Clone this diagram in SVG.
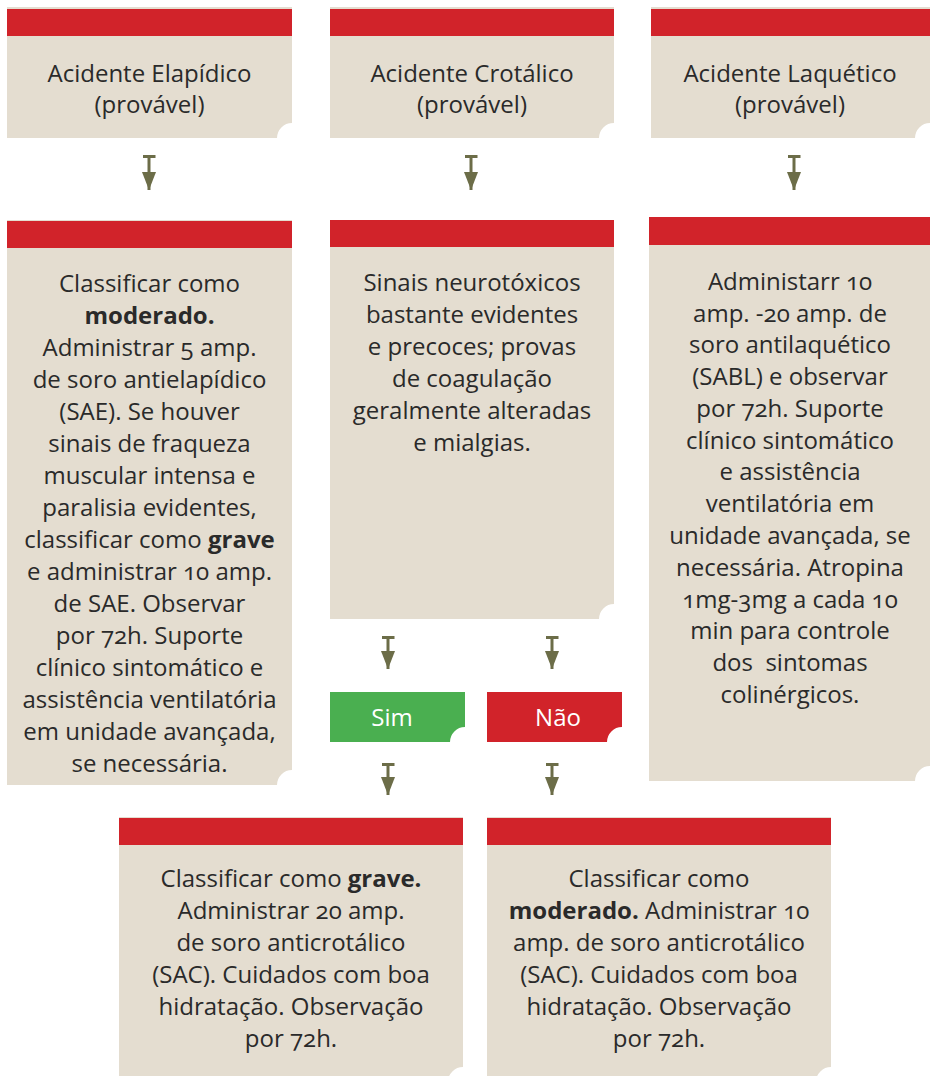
<svg xmlns="http://www.w3.org/2000/svg" width="930" height="1076" viewBox="0 0 930 1076">
<style>
.box{fill:#e4ddd0}
.bar{fill:#d1232a}
.t{font-family:"Open Sans","Noto Sans","DejaVu Sans",sans-serif;font-size:24px;fill:#2a2a2a;text-anchor:middle;font-variant-numeric:oldstyle-nums}
.b{font-weight:bold}
.w{font-family:"Open Sans","Noto Sans","DejaVu Sans",sans-serif;font-size:24px;fill:#ffffff;text-anchor:middle}
.c{stroke:#6c6d48;stroke-width:3;fill:none;marker-start:url(#tee);marker-end:url(#head)}
</style>
<defs>
<marker id="head" markerUnits="userSpaceOnUse" viewBox="0 0 14 18" markerWidth="14" markerHeight="18" refX="7" refY="18" orient="0">
<path d="M0,0 L14,0 L7,18 Z" fill="#6c6d48"/>
</marker>
<marker id="tee" markerUnits="userSpaceOnUse" viewBox="0 0 13 3" markerWidth="13" markerHeight="3" refX="6.5" refY="0" orient="0">
<rect x="0" y="0" width="13" height="3" fill="#6c6d48"/>
</marker>
</defs>

<g id="connectors">
<path class="c" d="M149,155 V190"/>
<path class="c" d="M471,155 V190"/>
<path class="c" d="M794,155 V190"/>
<path class="c" d="M388,636 V669"/>
<path class="c" d="M552,636 V669"/>
<path class="c" d="M388,763 V795"/>
<path class="c" d="M552,763 V795"/>
</g>

<g id="n-elapidico">
<path class="box" d="M7,7 H292 V123 A15,15 0 0 0 277,138 H7 Z"/>
<rect class="bar" x="7" y="9" width="285" height="27"/>
<text class="t" x="149.5" y="82">Acidente Elapídico</text>
<text class="t" x="149.5" y="113">(provável)</text>
</g>

<g id="n-crotalico">
<path class="box" d="M330,7 H614 V123 A15,15 0 0 0 599,138 H330 Z"/>
<rect class="bar" x="330" y="9" width="284" height="27"/>
<text class="t" x="472" y="82">Acidente Crotálico</text>
<text class="t" x="472" y="113">(provável)</text>
</g>

<g id="n-laquetico">
<path class="box" d="M651,7 H930 V123 A15,15 0 0 0 915,138 H651 Z"/>
<rect class="bar" x="651" y="9" width="279" height="27"/>
<text class="t" x="790" y="82">Acidente Laquético</text>
<text class="t" x="790" y="113">(provável)</text>
</g>

<g id="n-elapidico-conduta">
<path class="box" d="M7,220 H292 V770 A15,15 0 0 0 277,785 H7 Z"/>
<rect class="bar" x="7" y="221" width="285" height="27"/>
<text class="t" x="149.5" y="292">Classificar como</text>
<text class="t b" x="149.5" y="324">moderado.</text>
<text class="t" x="149.5" y="356">Administrar 5 amp.</text>
<text class="t" x="149.5" y="388">de soro antielapídico</text>
<text class="t" x="149.5" y="420">(SAE). Se houver</text>
<text class="t" x="149.5" y="452">sinais de fraqueza</text>
<text class="t" x="149.5" y="484">muscular intensa e</text>
<text class="t" x="149.5" y="516">paralisia evidentes,</text>
<text class="t" x="149.5" y="548">classificar como <tspan class="b">grave</tspan></text>
<text class="t" x="149.5" y="580">e administrar 10 amp.</text>
<text class="t" x="149.5" y="612">de SAE. Observar</text>
<text class="t" x="149.5" y="644">por 72h. Suporte</text>
<text class="t" x="149.5" y="676">clínico sintomático e</text>
<text class="t" x="149.5" y="708">assistência ventilatória</text>
<text class="t" x="149.5" y="740">em unidade avançada,</text>
<text class="t" x="149.5" y="772">se necessária.</text>
</g>

<g id="n-crotalico-sinais">
<path class="box" d="M330,220 H614 V604 A15,15 0 0 0 599,619 H330 Z"/>
<rect class="bar" x="330" y="220" width="284" height="27"/>
<text class="t" x="472" y="291">Sinais neurotóxicos</text>
<text class="t" x="472" y="323">bastante evidentes</text>
<text class="t" x="472" y="355">e precoces; provas</text>
<text class="t" x="472" y="387">de coagulação</text>
<text class="t" x="472" y="419">geralmente alteradas</text>
<text class="t" x="472" y="451">e mialgias.</text>
</g>

<g id="n-laquetico-conduta">
<path class="box" d="M649,217 H930 V766 A15,15 0 0 0 915,781 H649 Z"/>
<rect class="bar" x="649" y="217" width="281" height="28"/>
<text class="t" x="790" y="290">Administarr 10</text>
<text class="t" x="790" y="322">amp. -20 amp. de</text>
<text class="t" x="790" y="353">soro antilaquético</text>
<text class="t" x="790" y="385">(SABL) e observar</text>
<text class="t" x="790" y="417">por 72h. Suporte</text>
<text class="t" x="790" y="449">clínico sintomático</text>
<text class="t" x="790" y="480">e assistência</text>
<text class="t" x="790" y="512">ventilatória em</text>
<text class="t" x="790" y="544">unidade avançada, se</text>
<text class="t" x="790" y="576">necessária. Atropina</text>
<text class="t" x="790" y="608">1mg-3mg a cada 10</text>
<text class="t" x="790" y="639">min para controle</text>
<text class="t" x="790" y="671">dos&#160; sintomas</text>
<text class="t" x="790" y="703">colinérgicos.</text>
</g>

<g id="n-sim">
<path d="M330,692 H465 V727 A15,15 0 0 0 450,742 H330 Z" fill="#4aaf50"/>
<text class="w" x="392" y="726">Sim</text>
</g>

<g id="n-nao">
<path d="M487,692 H622 V727 A15,15 0 0 0 607,742 H487 Z" fill="#d1232a"/>
<text class="w" x="558" y="726">Não</text>
</g>

<g id="n-grave">
<path class="box" d="M119,817 H463 V1067 A15,15 0 0 0 448,1082 H119 Z"/>
<rect class="bar" x="119" y="818" width="344" height="27"/>
<text class="t" x="291" y="887">Classificar como <tspan class="b">grave.</tspan></text>
<text class="t" x="291" y="919">Administrar 20 amp.</text>
<text class="t" x="291" y="951">de soro anticrotálico</text>
<text class="t" x="291" y="983">(SAC). Cuidados com boa</text>
<text class="t" x="291" y="1015">hidratação. Observação</text>
<text class="t" x="291" y="1047">por 72h.</text>
</g>

<g id="n-moderado">
<path class="box" d="M487,817 H831 V1067 A15,15 0 0 0 816,1082 H487 Z"/>
<rect class="bar" x="487" y="818" width="344" height="27"/>
<text class="t" x="659" y="887">Classificar como</text>
<text class="t" x="659" y="919"><tspan class="b">moderado.</tspan> Administrar 10</text>
<text class="t" x="659" y="951">amp. de soro anticrotálico</text>
<text class="t" x="659" y="983">(SAC). Cuidados com boa</text>
<text class="t" x="659" y="1015">hidratação. Observação</text>
<text class="t" x="659" y="1047">por 72h.</text>
</g>
</svg>
